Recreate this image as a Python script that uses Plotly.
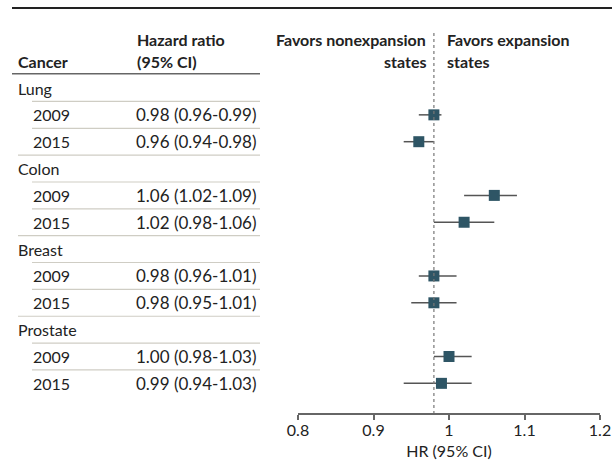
import plotly.graph_objects as go

# ---- data ----
groups = ["Lung", "Colon", "Breast", "Prostate"]
years = ["2009", "2015"]
hr = [0.98, 0.96, 1.06, 1.02, 0.98, 0.98, 1.00, 0.99]
lo = [0.96, 0.94, 1.02, 0.98, 0.96, 0.95, 0.98, 0.94]
hi = [0.99, 0.98, 1.09, 1.06, 1.01, 1.01, 1.03, 1.03]
hr_labels = ["0.98 (0.96-0.99)", "0.96 (0.94-0.98)", "1.06 (1.02-1.09)", "1.02 (0.98-1.06)",
             "0.98 (0.96-1.01)", "0.98 (0.95-1.01)", "1.00 (0.98-1.03)", "0.99 (0.94-1.03)"]
ref_line = 0.98
x_ticks = [0.8, 0.9, 1.0, 1.1, 1.2]
x_tick_text = ["0.8", "0.9", "1", "1.1", "1.2"]

W, H = 612, 460
FONT = "Lato"
FS = 16
TXT = "#222222"

rows_y = []
group_rows = []
i = 0
for g in groups:
    group_rows.append(i)
    i += 1
    for y in years:
        rows_y.append(i)
        i += 1

fig = go.Figure()
fig.add_trace(go.Scatter(
    x=hr, y=rows_y, mode="markers",
    marker=dict(symbol="square", size=11, color="#2e5565"),
    error_x=dict(type="data", symmetric=False,
                 array=[h - m for h, m in zip(hi, hr)],
                 arrayminus=[m - l for m, l in zip(hr, lo)],
                 thickness=1.5, width=0, color="#555555"),
    showlegend=False, hoverinfo="skip",
))

px = lambda v: v / W  # pixel -> paper x

annotations = []
shapes = []

def txt(xp, y, s, bold=False, anchor="left", size=FS):
    annotations.append(dict(
        x=px(xp), y=y, xref="paper", yref="y", text=("<b>%s</b>" % s) if bold else s,
        showarrow=False, xanchor=anchor, yanchor="middle", borderpad=0, borderwidth=0,
        font=dict(family=FONT, size=size, color=TXT)))

# headers
txt(18, -1.0, "Cancer", bold=True)
txt(137, -1.8, "Hazard ratio", bold=True)
txt(137, -1.0, "(95% CI)", bold=True)
txt(426, -1.8, "Favors nonexpansion", bold=True, anchor="right")
txt(426, -1.0, "states", bold=True, anchor="right")
txt(447, -1.8, "Favors expansion", bold=True)
txt(447, -1.0, "states", bold=True)

SEP = dict(color="#cfcdc4", width=1.2)
k = 0
for gi, g in enumerate(groups):
    gy = group_rows[gi]
    txt(18, gy, g)
    shapes.append(dict(type="line", xref="paper", yref="y", x0=px(32), x1=px(260),
                       y0=gy + 0.5, y1=gy + 0.5, line=SEP))
    for yi, yr in enumerate(years):
        ry = rows_y[k]
        txt(33, ry, yr)
        txt(136, ry, hr_labels[k], size=17)
        if yi < len(years) - 1:
            shapes.append(dict(type="line", xref="paper", yref="y", x0=px(32), x1=px(260),
                               y0=ry + 0.5, y1=ry + 0.5, line=SEP))
        elif gi < len(groups) - 1:
            shapes.append(dict(type="line", xref="paper", yref="y", x0=px(18), x1=px(260),
                               y0=ry + 0.5, y1=ry + 0.5, line=SEP))
        k += 1

# header underline
shapes.append(dict(type="line", xref="paper", yref="y", x0=px(12), x1=px(260),
                   y0=-0.53, y1=-0.53, line=dict(color="#666666", width=1.5)))
# top rule
shapes.append(dict(type="line", xref="paper", yref="y", x0=px(12), x1=1,
                   y0=-2.98, y1=-2.98, line=dict(color="#222222", width=2)))
# reference dotted line
shapes.append(dict(type="line", xref="x", yref="y", x0=ref_line, x1=ref_line,
                   y0=-2.05, y1=12.1, line=dict(color="#777777", width=1.2, dash="dot")))

row_px = 26.85
top_idx = -88 / row_px
bot_idx = top_idx + 413 / row_px

fig.update_layout(
    width=W, height=H,
    margin=dict(l=0, r=0, t=0, b=H - 413, autoexpand=False),
    paper_bgcolor="white", plot_bgcolor="white",
    xaxis=dict(domain=[px(298), px(600)], range=[0.8, 1.2], tickvals=x_ticks, ticktext=x_tick_text,
               automargin=False,
               showgrid=False, zeroline=False, showline=True, linecolor="#666666", linewidth=1.5,
               ticks="outside", ticklen=5, tickwidth=1.5, tickcolor="#666666",
               ticklabelstandoff=-3,
               tickfont=dict(family=FONT, size=FS, color=TXT),
               title=dict(text="HR (95% CI)", font=dict(family=FONT, size=FS, color=TXT), standoff=10)),
    yaxis=dict(range=[bot_idx, top_idx], visible=False, showgrid=False, zeroline=False, automargin=False),
    annotations=annotations, shapes=shapes,
)

fig.write_html("out.html", config={"displayModeBar": False},
               post_script="document.body.style.margin='0';document.body.style.overflow='hidden';")
